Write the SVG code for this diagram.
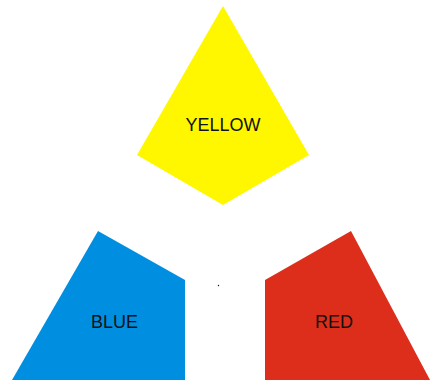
<svg xmlns="http://www.w3.org/2000/svg" width="430" height="380" viewBox="0 0 430 380">
<style>
text{font-family:"Liberation Sans",Arial,sans-serif;font-size:18px;fill:#111;text-anchor:middle}
</style>
<rect width="430" height="380" fill="#fff"/>
<g id="yellow">
<polygon points="223,6 309,155 223,205 137,155" fill="#FFF700"/>
<text x="223" y="131">YELLOW</text>
</g>
<g id="blue">
<polygon points="98,231 185,280 185,380 12,380" fill="#008FE0"/>
<text x="114.5" y="328">BLUE</text>
</g>
<g id="red">
<polygon points="351,231 430,380 265,380 265,280" fill="#DC2E1A"/>
<text x="334" y="328">RED</text>
</g>
<g id="connectors">
<circle cx="218.5" cy="285.5" r="0.7" fill="#111"/>
</g>
</svg>
